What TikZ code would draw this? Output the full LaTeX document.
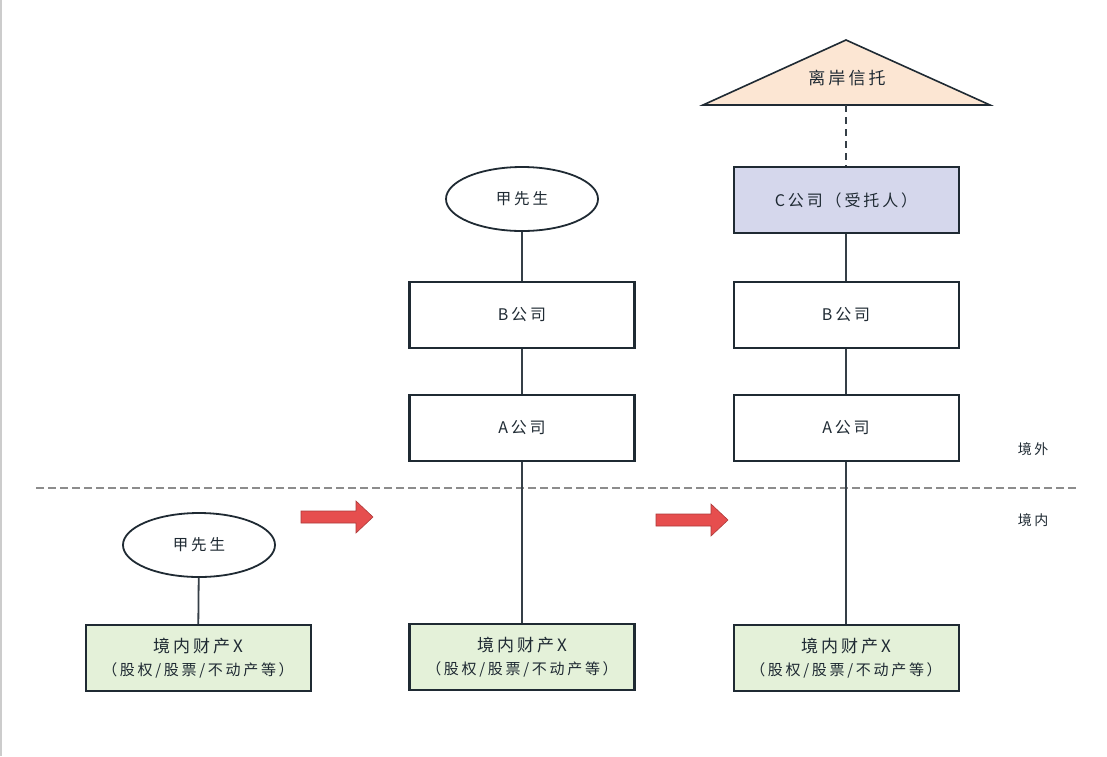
\documentclass[tikz,border=0pt]{standalone}
\usepackage{fontspec}
\setmainfont{Noto Sans CJK SC}[LetterSpace=18]
\usetikzlibrary{shapes.geometric,positioning,calc}
\definecolor{boxline}{HTML}{1F2A33}
\definecolor{assetgreen}{HTML}{E4F1D9}
\definecolor{trustpeach}{HTML}{FCE6D3}
\definecolor{trusteeblue}{HTML}{D5D7EC}
\definecolor{arrowred}{HTML}{E64E4E}
\tikzset{
  company/.style={draw=boxline,line width=2pt,minimum width=225pt,minimum height=66pt,inner sep=0pt,text=boxline,font=\fontsize{16}{19}\selectfont},
  asset/.style={company,fill=assetgreen,align=center,font=\fontsize{17}{20}\selectfont},
  person/.style={draw=boxline,line width=1.8pt,ellipse,minimum width=152pt,minimum height=64pt,inner sep=0pt,text=boxline,font=\fontsize{15.5}{18}\selectfont},
  link/.style={draw=boxline!90,line width=1.8pt},
  zone/.style={font=\fontsize{14}{16}\selectfont,text=boxline}
}

\begin{document}
\begin{tikzpicture}[x=1pt,y=-1pt]
\useasboundingbox (0,0) rectangle (1107,756);
\draw[gray!40,line width=1.5pt] (1,0)--(1,756);
% boundary
\draw[gray!90,line width=1.2pt,dash pattern=on 8pt off 4pt] (36,488)--(1077,488);
\node[zone] (outside) at (1033,449) {境外};
\node[zone] (inside) at (1033,520) {境内};

% left: before
\node[person] (p1) at (199,545) {甲先生};
\node[asset] (x1) at (198,658) {境内财产X\\[3pt]\fontsize{15}{18}\selectfont（股权/股票/不动产等）};
\draw[link] (p1)--(x1);

% middle: holding companies
\node[person] (p2) at (522,199) {甲先生};
\node[company,line width=2.4pt] (b2) at (522,315) {B公司};
\node[company,line width=2.4pt] (a2) at (522,428) {A公司};
\node[asset,line width=2.4pt] (x2) at (522,657) {境内财产X\\[3pt]\fontsize{15}{18}\selectfont（股权/股票/不动产等）};
\draw[link] (p2)--(b2);
\draw[link] (b2)--(a2);
\draw[link] (a2)--(x2);

% right: offshore trust
\fill[trustpeach,draw=boxline,line width=1.6pt] (846,40)--(990,105)--(703,105)--cycle;
\coordinate (base) at (846,105);
\node[font=\fontsize{17}{20}\selectfont,text=boxline] (trust) at (847,78) {离岸信托};
\node[company,fill=trusteeblue] (c3) at (846,200) {C公司（受托人）};
\node[company] (b3) at (846,315) {B公司};
\node[company] (a3) at (846,428) {A公司};
\node[asset] (x3) at (846,658) {境内财产X\\[3pt]\fontsize{15}{18}\selectfont（股权/股票/不动产等）};
\draw[link,dash pattern=on 7pt off 5pt] (base)--(c3);
\draw[link] (c3)--(b3);
\draw[link] (b3)--(a3);
\draw[link] (a3)--(x3);

% steps
\foreach \ax/\ay in {301/517,656/520}
  \filldraw[fill=arrowred,draw=arrowred!75!black,line width=0.6pt]
    (\ax,\ay-6)--(\ax+55,\ay-6)--(\ax+55,\ay-16)--(\ax+72,\ay)--(\ax+55,\ay+16)--(\ax+55,\ay+6)--(\ax,\ay+6)--cycle;
\end{tikzpicture}
\end{document}
